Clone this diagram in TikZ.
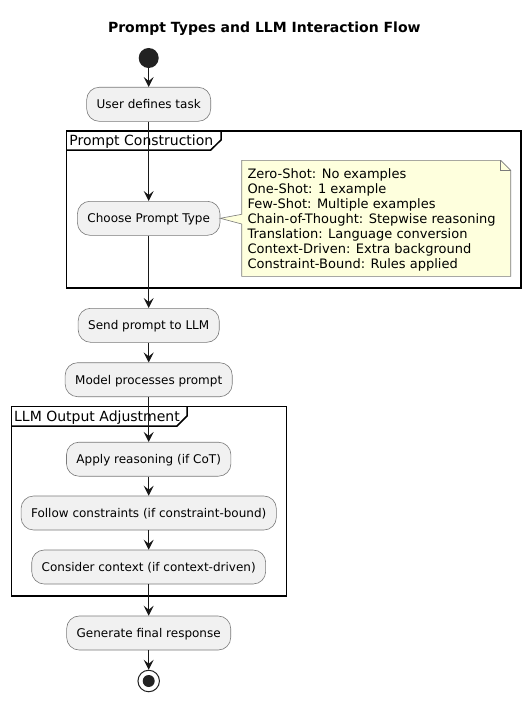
\documentclass[tikz,border=0pt]{standalone}
\usepackage{fontspec}
\setmainfont{DejaVu Sans}
\usetikzlibrary{arrows.meta}
\definecolor{boxfill}{HTML}{F1F1F1}
\definecolor{ink}{HTML}{181818}
\definecolor{edge}{HTML}{7A7A7A}
\definecolor{notefill}{HTML}{FEFFDD}
\definecolor{dot}{HTML}{222222}
\begin{document}
\begin{tikzpicture}[x=1bp,y=-1bp,
  actbox/.style={draw=edge, line width=0.6bp, fill=boxfill, rounded corners=12.5bp,
    minimum height=34bp, inner xsep=10bp, inner ysep=0pt,
    font=\fontsize{12bp}{14bp}\selectfont, text height=8.8bp, text depth=0pt},
  flow/.style={draw=ink, line width=1bp, -{Stealth[length=10bp,width=10bp,inset=4bp]}},
  frameline/.style={draw=black, line width=1.5bp},
  framelabel/.style={font=\fontsize{14bp}{16bp}\selectfont, anchor=base west, inner sep=0pt},
]
\useasboundingbox (0,0) rectangle (530,702);
\fill[white] (0,0) rectangle (530,702);

% title
\node[font=\fontsize{14bp}{16bp}\selectfont\bfseries, anchor=base, inner sep=0pt] (title) at (264.3,33) {Prompt Types and LLM Interaction Flow};

% frames
\draw[frameline] (66.7,131) rectangle (521,288);
\draw[frameline] (66.7,150) -- (210.7,150) -- (221,140) -- (221,131);
\node[framelabel] (pclabel) at (69.3,145.1) {Prompt Construction};

\draw[frameline] (11.7,406.7) rectangle (286.7,596);
\draw[frameline] (11.7,426) -- (177,426) -- (187,416) -- (187,406.7);
\node[framelabel] (lolabel) at (14,421) {LLM Output Adjustment};

% start / stop
\node[circle, fill=dot, minimum size=20bp, inner sep=0pt] (start) at (148.7,58) {};
\node[circle, draw=dot, fill=white, line width=1bp, minimum size=21.5bp, inner sep=0pt] (stop) at (148.7,681) {};
\node[circle, fill=dot, minimum size=12bp, inner sep=0pt] (stopdot) at (stop.center) {};

% activities
\node[actbox] (user) at (148.7,104.3) {User defines task};
\node[actbox] (choose) at (148.7,218.3) {Choose Prompt Type};
\node[actbox] (send) at (148.7,325.3) {Send prompt to LLM};
\node[actbox] (model) at (148.7,379.7) {Model processes prompt};
\node[actbox] (apply) at (148.7,459.2) {Apply reasoning (if CoT)};
\node[actbox] (follow) at (148.7,513) {Follow constraints (if constraint-bound)};
\node[actbox] (consider) at (148.7,567) {Consider context (if context-driven)};
\node[actbox] (generate) at (148.7,633) {Generate final response};

% note
\draw[draw=edge, line width=0.6bp, fill=notefill]
  (241.7,160.3) -- (500.7,160.3) -- (510.7,170.3) -- (510.7,276.3) -- (241.7,276.3)
  -- (241.7,224) -- (choose.east) -- (241.7,214.3) -- cycle;
\draw[draw=edge, line width=0.6bp] (500.7,160.3) -- (500.7,170.3) -- (510.7,170.3);
\node[anchor=north west, inner sep=0pt, align=left, font=\fontsize{13bp}{15bp}\selectfont] (notetext) at (247.3,168)
 {Zero-Shot: No examples\\One-Shot: 1 example\\Few-Shot: Multiple examples\\Chain-of-Thought: Stepwise reasoning\\Translation: Language conversion\\Context-Driven: Extra background\\Constraint-Bound: Rules applied};

% flow
\draw[flow] (start) -- (user.north);
\draw[flow] (user.south) -- (choose.north);
\draw[flow] (choose.south) -- (send.north);
\draw[flow] (send.south) -- (model.north);
\draw[flow] (model.south) -- (apply.north);
\draw[flow] (apply.south) -- (follow.north);
\draw[flow] (follow.south) -- (consider.north);
\draw[flow] (consider.south) -- (generate.north);
\draw[flow] (generate.south) -- (stop);
\end{tikzpicture}
\end{document}
